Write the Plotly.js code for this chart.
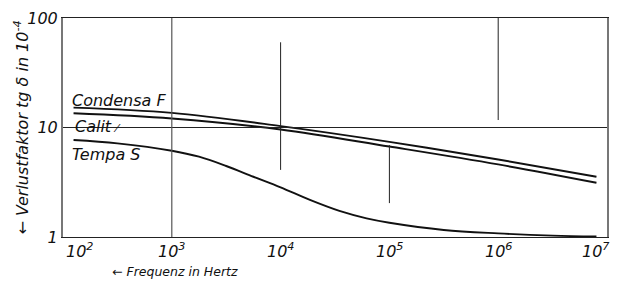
<!DOCTYPE html>
<html><head><meta charset="utf-8">
<script src="https://cdn.plot.ly/plotly-3.0.1.min.js"></script>
<style>html,body{margin:0;padding:0;background:#fff}#chart{width:617px;height:282px}</style>
</head><body><div id="chart"></div>
<script>
// Frequency in Hz, loss factor tg δ in 10^-4
const freqCF = [125, 1000, 10000, 100000, 1000000, 8000000];
const condensaF = [15.2, 13.6, 10.3, 7.4, 5.1, 3.55];
const freqCa = [125, 1000, 10000, 100000, 1000000, 8000000];
const calit = [13.5, 12.1, 9.6, 6.7, 4.6, 3.13];
const freqTS = [125, 316, 1000, 1778, 3162, 5623, 10000, 18600, 34700, 61700, 100000, 316000, 1000000, 3160000, 8000000];
const tempaS = [7.7, 7.17, 6.14, 5.41, 4.45, 3.55, 2.84, 2.18, 1.73, 1.48, 1.35, 1.16, 1.08, 1.03, 1.01];

const xTickVals = [1e2, 1e3, 1e4, 1e5, 1e6, 1e7];
const xTickText = ['10<sup>2</sup>', '10<sup>3</sup>', '10<sup>4</sup>', '10<sup>5</sup>', '10<sup>6</sup>', '10<sup>7</sup>'];
const yTickVals = [1, 10, 100];
const yTickText = ['1', '10', '100'];

const seriesNames = ['Condensa F', 'Calit', 'Tempa S'];
const xTitle = '← Frequenz in Hertz';
const yTitle = '← Verlustfaktor tg δ in 10<sup>-4</sup>';

const FAM = 'DejaVu Sans, Verdana, sans-serif';
const f = (size) => ({family: FAM, color: '#111', size: size, style: 'italic'});
const line = {color: '#111', width: 1.9, shape: 'spline', smoothing: 1};

const traces = [
  {x: freqCF, y: condensaF, name: seriesNames[0], mode: 'lines', line: line},
  {x: freqCa, y: calit, name: seriesNames[1], mode: 'lines', line: line},
  {x: freqTS, y: tempaS, name: seriesNames[2], mode: 'lines', line: line}
];

const gl = {color: '#222', width: 1};
const shapes = [
  {type: 'line', xref: 'x', yref: 'y', x0: 1e2, x1: 1e7, y0: 10, y1: 10, line: gl},
  {type: 'line', xref: 'x', yref: 'y', x0: 1e3, x1: 1e3, y0: 1, y1: 100, line: {color: '#555', width: 1.2}},
  {type: 'line', xref: 'x', yref: 'y', x0: 1e4, x1: 1e4, y0: 4.1, y1: 60, line: gl},
  {type: 'line', xref: 'x', yref: 'y', x0: 1e5, x1: 1e5, y0: 2.04, y1: 6.9, line: gl},
  {type: 'line', xref: 'x', yref: 'y', x0: 1e6, x1: 1e6, y0: 11.7, y1: 100, line: gl}
];

const annotations = [];
xTickVals.forEach((v, i) => {
  const last = i === xTickVals.length - 1, first = i === 0;
  annotations.push({
    x: Math.log10(v), y: 0, xref: 'x', yref: 'paper', text: xTickText[i],
    showarrow: false, xanchor: first ? 'left' : (last ? 'right' : 'center'),
    xshift: first ? 1 : (last ? 5 : 0), yanchor: 'top', yshift: -1,
    font: f(16)
  });
});
annotations.push({x: Math.log10(125), y: Math.log10(17.8), xref: 'x', yref: 'y', text: seriesNames[0],
  showarrow: false, xanchor: 'left', yanchor: 'middle', xshift: -4, font: f(16)});
annotations.push({x: Math.log10(125), y: Math.log10(10.3), xref: 'x', yref: 'y', text: seriesNames[1] + ' <span style="font-size:10px">⁄</span>',
  showarrow: false, xanchor: 'left', yanchor: 'middle', xshift: -1, font: f(16)});
annotations.push({x: Math.log10(125), y: Math.log10(5.7), xref: 'x', yref: 'y', text: seriesNames[2],
  showarrow: false, xanchor: 'left', yanchor: 'middle', xshift: -4, font: f(16)});
annotations.push({x: 0, y: 0, xref: 'paper', yref: 'paper', text: xTitle, showarrow: false,
  xanchor: 'center', yanchor: 'middle', xshift: 112, yshift: -34, font: f(12.5)});
annotations.push({x: 0, y: 0.5, xref: 'paper', yref: 'paper', text: yTitle, showarrow: false, textangle: -90,
  xanchor: 'center', yanchor: 'middle', xshift: -41, font: f(16)});

const layout = {
  width: 617, height: 282,
  margin: {l: 63, r: 10, t: 18, b: 45},
  paper_bgcolor: '#fff', plot_bgcolor: '#fff',
  showlegend: false,
  xaxis: {
    type: 'log', range: [2, 7], showgrid: false, zeroline: false,
    tickvals: xTickVals, ticktext: xTickText, showticklabels: false, ticks: '',
    showline: true, linecolor: '#222', linewidth: 1.2, mirror: true
  },
  yaxis: {
    type: 'log', range: [0, 2], showgrid: false, zeroline: false,
    tickvals: yTickVals, ticktext: yTickText, ticks: '',
    tickfont: f(16),
    showline: true, linecolor: '#777', linewidth: 2, mirror: true
  },
  shapes: shapes,
  annotations: annotations
};

Plotly.newPlot('chart', traces, layout, {displayModeBar: false, staticPlot: true});
</script></body></html>
